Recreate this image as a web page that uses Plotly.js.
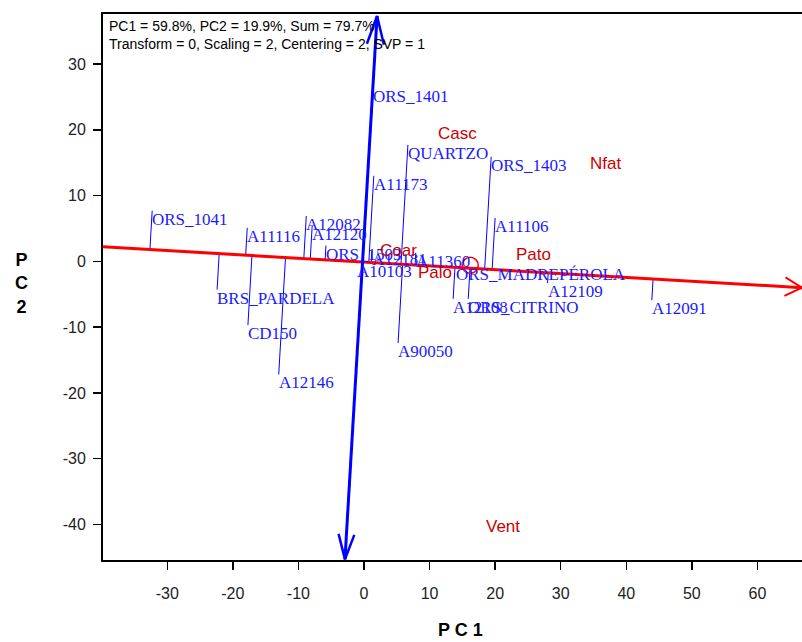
<!DOCTYPE html>
<html><head><meta charset="utf-8">
<script src="https://cdn.plot.ly/plotly-3.0.1.min.js"></script>
<style>html,body{margin:0;padding:0;background:#fff}</style>
</head><body><div id="chart" style="width:802px;height:642px"></div>
<script>
// ---- data ----
const genotypeNames = ['ORS_1041','A11116','A12082','A12120','ORS_1503','A12181','A11360','A10103',
  'BRS_PARDELA','CD150','A12146','A90050','ORS_1401','QUARTZO','ORS_1403','A11173','A11106',
  'ORS_MADREPÉROLA','A12109','A12091','ORS_CITRINO','A12108'];
const genotypeX = [-32.3,-17.8,-8.8,-7.9,-5.8,1.2,7.9,-1.1,-22.4,-17.7,-13.0,5.2,1.4,6.7,19.4,1.5,20.0,14.0,28.0,43.9,15.9,13.6];
const genotypeY = [7.7,5.1,6.9,5.4,2.4,1.6,1.3,-0.2,-4.3,-9.7,-17.2,-12.4,26.4,17.7,15.9,13.0,6.6,-0.7,-3.3,-5.9,-5.7,-5.7];

const envNames = ['Casc','Nfat','Pato','Palo','Coar','Vent'];
const envX = [14.2,36.9,25.8,10.8,5.3,21.2];
const envY = [19.5,14.8,1.1,-1.7,1.6,-40.3];

const aeaX = [-39.8, 66.8];   // red axis ends
const aeaY = [2.2, -4.0];
const ordX = [-2.9, 2.0];     // blue axis ends
const ordY = [-45.3, 37.3];
const meanEnvX = [16.2];
const meanEnvY = [-0.6];

const xTicks = [-30,-20,-10,0,10,20,30,40,50,60];
const yTicks = [-40,-30,-20,-10,0,10,20,30];
const infoLines = ['PC1 = 59.8%, PC2 = 19.9%, Sum = 79.7%','Transform = 0, Scaling = 2, Centering = 2, SVP = 1'];

// ---- helpers ----
function foot(px, py){
  const dx = aeaX[1]-aeaX[0], dy = aeaY[1]-aeaY[0];
  const t = ((px-aeaX[0])*dx + (py-aeaY[0])*dy)/(dx*dx+dy*dy);
  return [aeaX[0]+t*dx, aeaY[0]+t*dy];
}
function arms(tipX, tipY, fromX, fromY, len, half){
  const ux = tipX-fromX, uy = tipY-fromY, m = Math.hypot(ux,uy);
  const ax = ux/m, ay = uy/m, nx = -ay, ny = ax;
  const bx = tipX-len*ax, by = tipY-len*ay;
  return {x:[bx+half*nx, tipX, bx-half*nx], y:[by+half*ny, tipY, by-half*ny]};
}

const leadX = [], leadY = [];
genotypeX.forEach((gx,i)=>{
  const f = foot(gx, genotypeY[i]);
  leadX.push(f[0], gx, null); leadY.push(f[1], genotypeY[i], null);
});

const BLUE = '#0000ff', RED = '#ff0000';
const topArr = arms(ordX[1],ordY[1],ordX[0],ordY[0],4.3,1.3);
const botArr = arms(ordX[0],ordY[0],ordX[1],ordY[1],3.8,1.2);
const redArr = arms(aeaX[1],aeaY[1],aeaX[0],aeaY[0],2.6,1.4);

const traces = [
  {x:leadX, y:leadY, mode:'lines', line:{color:BLUE,width:1}, hoverinfo:'skip'},
  {x:aeaX, y:aeaY, mode:'lines', line:{color:RED,width:3}},
  {x:redArr.x, y:redArr.y, mode:'lines', line:{color:RED,width:2}},
  {x:ordX, y:ordY, mode:'lines', line:{color:BLUE,width:3}},
  {x:topArr.x, y:topArr.y, mode:'lines', line:{color:BLUE,width:2.5}},
  {x:botArr.x, y:botArr.y, mode:'lines', line:{color:BLUE,width:2.5}},
  {x:meanEnvX, y:meanEnvY, mode:'markers', marker:{symbol:'circle-open',size:16,color:RED,line:{width:1.5,color:RED}}}
];

const annotations = [];
genotypeNames.forEach((n,i)=>{
  annotations.push({x:genotypeX[i], y:genotypeY[i], xref:'x', yref:'y', text:n, showarrow:false,
    xanchor:'left', yanchor:'top', yshift:3, xshift:-2,
    font:{family:'Liberation Serif, Times New Roman, serif', size:17, color:'#1a1aff'}});
});
envNames.forEach((n,i)=>{
  annotations.push({x:envX[i], y:envY[i], xref:'x', yref:'y', text:n, showarrow:false,
    xanchor:'center', yanchor:'middle',
    font:{family:'Liberation Sans, Arial, sans-serif', size:17, color:'#cc0000'}});
});
annotations.push({x:0.006, y:0.997, xref:'paper', yref:'paper', text:infoLines.join('<br>'), showarrow:false,
  xanchor:'left', yanchor:'top', align:'left',
  font:{family:'Liberation Sans, Arial, sans-serif', size:14, color:'#000'}});
annotations.push({x:0.511, y:-0.128, xref:'paper', yref:'paper', text:'P C 1', showarrow:false,
  xanchor:'center', yanchor:'middle', font:{family:'Liberation Sans, Arial, sans-serif', size:18, color:'#000', weight:'bold'}});
annotations.push({x:-0.116, y:0.507, xref:'paper', yref:'paper', text:'P<br>C<br>2', showarrow:false,
  xanchor:'center', yanchor:'middle', font:{family:'Liberation Sans, Arial, sans-serif', size:18, color:'#000', weight:'bold'}});

const tickFont = {family:'Liberation Sans, Arial, sans-serif', size:16, color:'#222'};
const layout = {
  width:802, height:642, margin:{l:103, r:0, t:14, b:82},
  paper_bgcolor:'#fff', plot_bgcolor:'#fff', showlegend:false,
  xaxis:{range:[-39.8,66.8], tickvals:xTicks, ticktext:xTicks.map(String), ticks:'outside', ticklen:8, tickwidth:1.5,
    tickcolor:'#000', showline:true, linewidth:2, linecolor:'#000', mirror:true, showgrid:false, zeroline:false,
    tickfont:tickFont, ticklabelstandoff:10},
  yaxis:{range:[-45.4,37.6], tickvals:yTicks, ticktext:yTicks.map(String), ticks:'outside', ticklen:8, tickwidth:1.5,
    tickcolor:'#000', showline:true, linewidth:2, linecolor:'#000', mirror:false, showgrid:false, zeroline:false,
    tickfont:tickFont, ticklabelstandoff:4},
  annotations:annotations
};
Plotly.newPlot('chart', traces, layout, {staticPlot:true, displayModeBar:false});
</script></body></html>
